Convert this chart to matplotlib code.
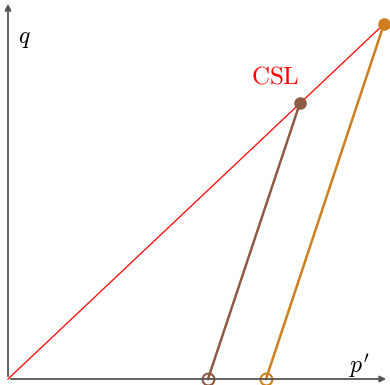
import matplotlib.pyplot as plt

plt.rcParams['mathtext.fontset'] = 'cm'

# data (p', q) in plot units
csl_p = [0, 376]
csl_q = [0, 355]
brown_p = [200, 292]
brown_q = [0, 276]
orange_p = [258, 376]
orange_q = [0, 355]

brown = '#8c5a45'
orange = '#cc7f1c'
axis_col = '#555555'

fig = plt.figure(figsize=(3.9, 3.85), dpi=100)
ax = fig.add_axes([0, 0, 1, 1])
ax.set_xlim(-8, 382)
ax.set_ylim(-6, 379)
ax.axis('off')

# axes arrows
ax.annotate('', xy=(381, 0), xytext=(0, 0),
            arrowprops=dict(arrowstyle='-|>', color=axis_col, lw=1.3, mutation_scale=9))
ax.annotate('', xy=(0, 378), xytext=(0, 0),
            arrowprops=dict(arrowstyle='-|>', color=axis_col, lw=1.3, mutation_scale=9))

ax.text(16, 341, r'$q$', fontsize=17, ha='center', va='center')
ax.text(351, 13, r"$p'$", fontsize=17, ha='center', va='center')

# critical state line
ax.plot(csl_p, csl_q, color='red', lw=0.9)
ax.text(267, 302, r'$\mathrm{CSL}$', color='red', fontsize=18, ha='center', va='center')

# stress paths
ax.plot(brown_p, brown_q, color=brown, lw=1.8)
ax.plot(brown_p[1], brown_q[1], 'o', color=brown, ms=8)
ax.plot(brown_p[0], brown_q[0], 'o', mfc='none', mec=brown, mew=1.5, ms=8.5)

ax.plot(orange_p, orange_q, color=orange, lw=1.8)
ax.plot(orange_p[1], orange_q[1], 'o', color=orange, ms=8)
ax.plot(orange_p[0], orange_q[0], 'o', mfc='none', mec=orange, mew=1.5, ms=8.5)

fig.savefig('out.png', dpi=100)
